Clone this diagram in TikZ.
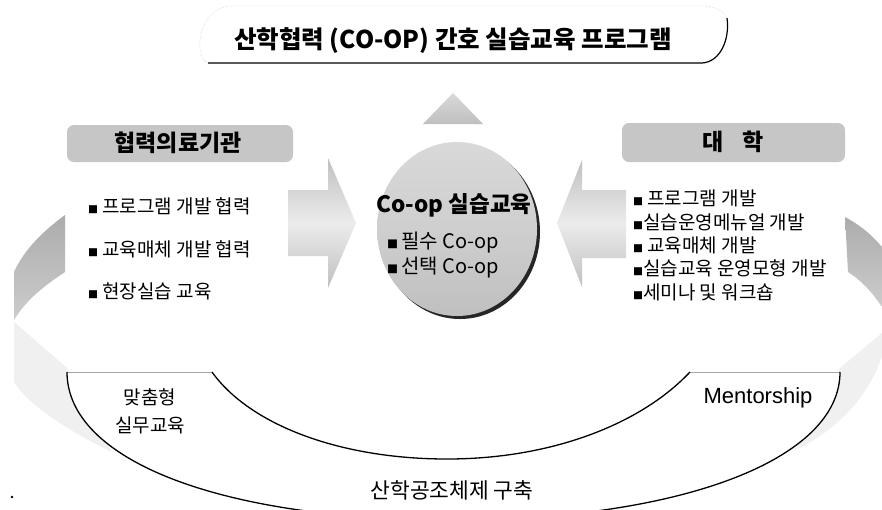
\documentclass[tikz,border=0pt]{standalone}
\usepackage{fontspec}
\newfontfamily\kr{Noto Sans CJK KR}
\newfontfamily\lat{Liberation Sans}
\usetikzlibrary{shapes.geometric}
\begin{document}
\begin{tikzpicture}[x=1pt,y=-1pt,
  txt/.style={inner sep=0pt, font=\kr\fontsize{19}{21}\selectfont},
  hdrbox/.style={fill=gray!45, rounded corners=7pt},
  hdrtxt/.style={inner sep=0pt, font=\kr\bfseries\fontsize{23}{25}\selectfont},
  arrowfill/.style={top color=gray!50, bottom color=gray!50, middle color=gray!15},
  ringdark/.style={top color=gray!65, bottom color=gray!40},
  ringlight/.style={fill=gray!12},
  arcline/.style={line width=1.3pt, black},
  flatline/.style={line width=0.6pt, gray!70},
]
\useasboundingbox (0,0) rectangle (882,509);
\fill[white] (0,0) rectangle (882,509);

% ---- ring pieces (left) ----
\shade[ringdark] (65,215) .. controls (42,232) and (24,250) .. (14,272) -- (14,320)
   .. controls (26,300) and (44,286) .. (65,272) -- cycle;
\fill[ringlight] (14,322) -- (67,368) -- (112,452) .. controls (62,428) and (26,402) .. (14,382) -- cycle;
% ---- ring pieces (right) ----
\shade[ringdark] (845,217) .. controls (860,225) and (872,235) .. (882,247) -- (882,307)
   .. controls (872,292) and (862,281) .. (848,272) -- cycle;
\fill[ringlight] (882,333) -- (840,368) -- (795,450) .. controls (842,428) and (870,392) .. (882,356) -- cycle;

% ---- bottom shape ----
\fill[white] (67,372) -- (212,372) .. controls (250,425) and (340,459) .. (447,459)
   .. controls (550,459) and (640,425) .. (690,372) -- (840,372)
   .. controls (840,460) and (680,520) .. (452,520) .. controls (220,520) and (67,460) .. (67,372) -- cycle;
\coordinate (tl1) at (67,372);
\coordinate (tl2) at (212,372);
\coordinate (bm) at (447,459);
\coordinate (tr1) at (690,372);
\coordinate (tr2) at (840,372);
\coordinate (ob) at (452,520);
\draw[flatline] (tl1) -- (tl2);
\draw[flatline] (tr1) -- (tr2);
\draw[arcline] (tl2) .. controls (250,425) and (340,459) .. (bm) .. controls (550,459) and (640,425) .. (tr1);
\draw[arcline] (tr2) .. controls (840,460) and (680,520) .. (ob) .. controls (220,520) and (67,460) .. (tl1);

% ---- title ----
\node[inner sep=0pt, font=\kr\bfseries\fontsize{24.5}{26}\selectfont] (title) at (453,41) {산학협력 (CO-OP) 간호 실습교육 프로그램};
\draw[gray!55, densely dotted] (208,63) .. controls (194,58) and (196,12) .. (228,6) -- (705,6) .. controls (715,7) and (722,10) .. (726,16);
\draw[line width=1.2pt] (208,63) -- (702,63) .. controls (720,62) and (730,40) .. (727,18);

% ---- top triangle ----
\shade[top color=gray!30, bottom color=gray!50] (453,93) -- (483,124) -- (423,124) -- cycle;

% ---- arrows ----
\shade[arrowfill] (288,190) -- (328,190) -- (328,158) -- (356,223) -- (328,288) -- (328,256) -- (288,256) -- cycle;
\shade[arrowfill] (626,190) -- (582,190) -- (582,160) -- (557,223) -- (582,287) -- (582,258) -- (626,258) -- cycle;

% ---- centre circle ----
\fill[black!85] (460,232) ellipse [x radius=80pt, y radius=87pt];
\shade[top color=gray!30, bottom color=gray!50, middle color=gray!38] (457,229) ellipse [x radius=80pt, y radius=87pt];
\node[inner sep=0pt, font=\kr\bfseries\fontsize{22.5}{24}\selectfont] (coop) at (454,205) {Co-op 실습교육};
\node[txt, anchor=west, font=\kr\fontsize{20}{22}\selectfont] (c1) at (387,243) {{\fontsize{11}{11}\selectfont ■}\,필수 Co-op};
\node[txt, anchor=west, font=\kr\fontsize{20}{22}\selectfont] (c2) at (387,268) {{\fontsize{11}{11}\selectfont ■}\,선택 Co-op};

% ---- header boxes ----
\fill[hdrbox] (67,125) rectangle (293,162);
\node[hdrtxt] (h1) at (178,143) {협력의료기관};
\fill[hdrbox] (622,123) rectangle (845,162);
\node[hdrtxt] (h2) at (733,142) {대\hspace{0.8em}학};

% ---- left list ----
\node[txt, anchor=west] (l1) at (88,206) {{\fontsize{10}{10}\selectfont ■} 프로그램 개발 협력};
\node[txt, anchor=west] (l2) at (88,249) {{\fontsize{10}{10}\selectfont ■} 교육매체 개발 협력};
\node[txt, anchor=west] (l3) at (88,291) {{\fontsize{10}{10}\selectfont ■} 현장실습 교육};

% ---- right list ----
\node[txt, anchor=west] (r1) at (633,198) {{\fontsize{10}{10}\selectfont ■} 프로그램 개발};
\node[txt, anchor=west] (r2) at (633,222) {{\fontsize{10}{10}\selectfont ■}실습운영메뉴얼 개발};
\node[txt, anchor=west] (r3) at (633,245) {{\fontsize{10}{10}\selectfont ■} 교육매체 개발};
\node[txt, anchor=west] (r4) at (633,268) {{\fontsize{10}{10}\selectfont ■}실습교육 운영모형 개발};
\node[txt, anchor=west] (r5) at (633,292) {{\fontsize{10}{10}\selectfont ■}세미나 및 워크숍};

% ---- bottom labels ----
\node[txt, font=\kr\fontsize{19}{21}\selectfont] (b1) at (150,397) {맞춤형};
\node[txt, font=\kr\fontsize{19}{21}\selectfont] (b2) at (150,425) {실무교육};
\node[inner sep=0pt, font=\lat\fontsize{22}{24}\selectfont] (b3) at (758,398) {Mentorship};
\node[txt, font=\kr\fontsize{21.5}{23}\selectfont] (b4) at (452,490) {산학공조체제 구축};
\fill (12,497) circle (1.3pt);
\end{tikzpicture}
\end{document}
